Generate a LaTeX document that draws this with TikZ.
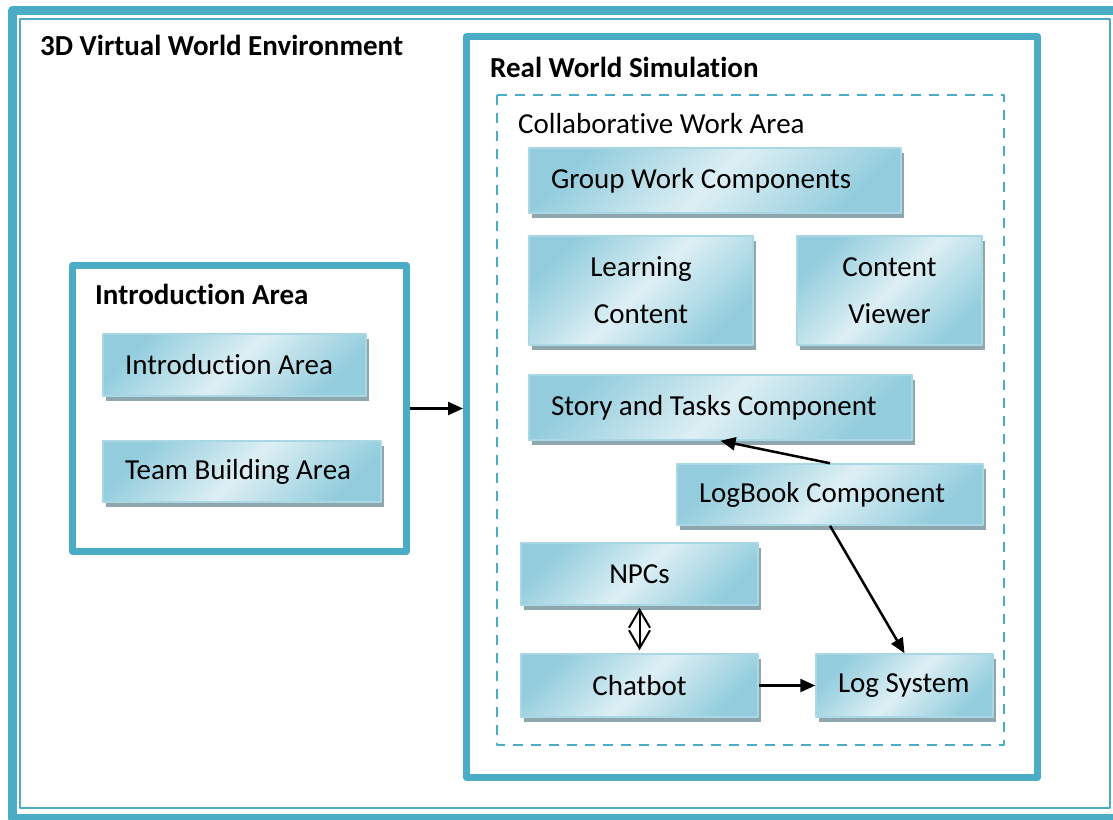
\documentclass[tikz,border=0pt]{standalone}
\usepackage{fontspec}
\setmainfont{Carlito}[Ligatures=NoCommon]
\usetikzlibrary{arrows.meta,shadows}
\definecolor{frameblue}{HTML}{4BACC6}
\definecolor{boxdark}{HTML}{93CDDD}
\definecolor{boxlight}{HTML}{DDEFF4}
\definecolor{boxedge}{HTML}{A9D8E4}
\definecolor{shadowgray}{HTML}{8EA7AF}
\begin{document}
\begin{tikzpicture}[x=1pt,y=-1pt,>={Triangle[length=15pt,width=13pt]},line join=round,
    font=\fontsize{29}{47}\selectfont,
    frame/.style={draw=frameblue,line width=7pt},
    comp/.style={draw=boxedge,line width=1.5pt,left color=boxdark,right color=boxdark,middle color=boxlight,
        shading angle=45,drop shadow={shadow xshift=3pt,shadow yshift=-5pt,opacity=1,fill=shadowgray},inner sep=0pt},
    lcomp/.style={comp,align=flush left,inner xsep=22pt},
    ccomp/.style={comp,align=center},
    title/.style={anchor=base west,inner sep=0pt},
    conn/.style={line width=2.5pt,->}]
    \useasboundingbox (0,0) rectangle (1113,819);
    % outer frame
    \draw[frameblue,line width=9pt] (12.5,10.5) rectangle (1118,818.5);
    \draw[frameblue,line width=2.5pt] (20,19) rectangle (1110,808);
    \node[title,font=\fontsize{29}{35}\selectfont\bfseries] (vwtitle) at (40,55) {3D Virtual World Environment};
    % introduction side
    \node[frame,minimum width=333.5pt,minimum height=286pt] (introbox) at (239.25,408.5) {};
    \node[title,font=\fontsize{29}{35}\selectfont\bfseries] (introtitle) at (95,304) {Introduction Area};
    \node[lcomp,text width=219pt,minimum height=62pt] (intro) at (234.5,365) {Introduction Area};
    \node[lcomp,text width=234pt,minimum height=61pt] (team) at (242,471.5) {Team Building Area};
    % real world simulation
    \node[frame,minimum width=571pt,minimum height=741pt] (rwsbox) at (752,406.5) {};
    \node[title,font=\fontsize{29}{35}\selectfont\bfseries] (rwstitle) at (490,77) {Real World Simulation};
    \draw[frameblue,line width=2.5pt,dash pattern=on 10pt off 8pt] (497,95) rectangle (1004,745);
    \node[title] (cwatitle) at (518,133) {Collaborative Work Area};
    \node[lcomp,text width=328pt,minimum height=65pt] (group) at (715,180.5) {Group Work Components};
    \node[ccomp,minimum width=224pt,minimum height=109pt] (learn) at (641,290.5) {Learning\\Content};
    \node[ccomp,minimum width=185pt,minimum height=109pt] (viewer) at (889.5,290.5) {Content\\Viewer};
    \node[lcomp,text width=339pt,minimum height=65pt] (story) at (720.5,407.5) {Story and Tasks Component};
    \node[lcomp,text width=262pt,minimum height=61pt] (logbook) at (830,494.5) {LogBook Component};
    \node[ccomp,minimum width=237pt,minimum height=62pt] (npcs) at (639.5,574) {NPCs};
    \node[ccomp,minimum width=237pt,minimum height=63pt] (chatbot) at (639.5,685.5) {Chatbot};
    \node[lcomp,text width=133pt,minimum height=63pt] (logsys) at (904.5,685.5) {Log System};
    % connectors
    \draw[conn] (introbox.east) -- (rwsbox.west |- introbox.east);
    \draw[conn] (logbook.north) -- (story.south);
    \draw[conn] (logbook.south) -- (logsys.north);
    \draw[conn] (chatbot.east) -- (logsys.west);
    \draw[line width=2pt,{Straight Barb[length=18pt,width=21pt]}-{Straight Barb[length=18pt,width=21pt]},shorten <=2pt,shorten >=3pt] (npcs.south) -- (chatbot.north);
\end{tikzpicture}
\end{document}
